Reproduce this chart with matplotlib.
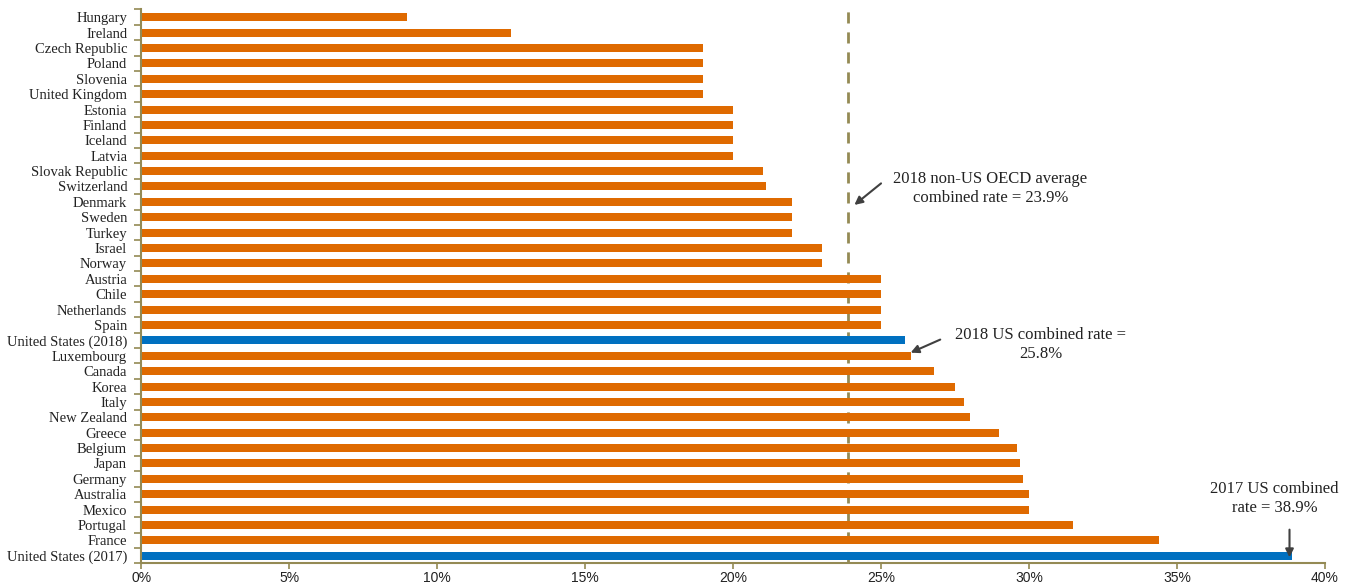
import matplotlib
matplotlib.use("Agg")
import matplotlib.pyplot as plt
from matplotlib.ticker import PercentFormatter

countries = ["Hungary", "Ireland", "Czech Republic", "Poland", "Slovenia", "United Kingdom",
             "Estonia", "Finland", "Iceland", "Latvia", "Slovak Republic", "Switzerland",
             "Denmark", "Sweden", "Turkey", "Israel", "Norway", "Austria", "Chile",
             "Netherlands", "Spain", "United States (2018)", "Luxembourg", "Canada", "Korea",
             "Italy", "New Zealand", "Greece", "Belgium", "Japan", "Germany", "Australia",
             "Mexico", "Portugal", "France", "United States (2017)"]
rates = [9.0, 12.5, 19.0, 19.0, 19.0, 19.0,
         20.0, 20.0, 20.0, 20.0, 21.0, 21.1,
         22.0, 22.0, 22.0, 23.0, 23.0, 25.0, 25.0,
         25.0, 25.0, 25.8, 26.0, 26.8, 27.5,
         27.8, 28.0, 29.0, 29.6, 29.7, 29.8, 30.0,
         30.0, 31.5, 34.4, 38.9]
highlight = ["United States (2018)", "United States (2017)"]
oecd_avg = 23.9
xticks = [0, 5, 10, 15, 20, 25, 30, 35, 40]

ORANGE = "#DF6A00"
BLUE = "#0070C0"
TAN = "#948A54"
serif = ["Liberation Serif", "DejaVu Serif"]

fig = plt.figure(figsize=(13.59, 5.86), dpi=100)
ax = fig.add_axes([0.1038, 0.0384, 0.8712, 0.9454])

ypos = list(range(len(countries)))
colors = [BLUE if c in highlight else ORANGE for c in countries]
ax.barh(ypos, rates, height=0.52, color=colors, edgecolor="none")

ax.set_ylim(len(countries) - 0.5, -0.5)
ax.set_xlim(0, 40)

ax.axvline(oecd_avg, color=TAN, linestyle=(0, (4, 3.2)), linewidth=2, zorder=0.5)

# y ticks: labels at centers, tick marks at boundaries
ax.set_yticks(ypos)
ax.set_yticklabels(countries, fontfamily=serif, fontsize=10.5, color="#222222")
ax.tick_params(axis="y", which="major", length=0, pad=10)
ax.set_yticks([i - 0.5 for i in range(len(countries) + 1)], minor=True)
ax.tick_params(axis="y", which="minor", length=5, color=TAN, width=1.2)

ax.set_xticks(xticks)
ax.xaxis.set_major_formatter(PercentFormatter(decimals=0))
ax.tick_params(axis="x", length=4, color=TAN, width=1.2, labelsize=10, labelcolor="#222222", pad=1.5)
for lbl in ax.get_xticklabels():
    lbl.set_fontfamily(["Liberation Sans", "DejaVu Sans"])

for s in ["top", "right"]:
    ax.spines[s].set_visible(False)
for s in ["left", "bottom"]:
    ax.spines[s].set_color(TAN)
    ax.spines[s].set_linewidth(1.5)

arrow = dict(arrowstyle="-|>", color="#404040", lw=1.5, mutation_scale=12, shrinkA=0, shrinkB=0)
tkw = dict(fontfamily=serif, fontsize=12, color="#222222", ha="center", va="center",
           linespacing=1.25)

ax.annotate("", xy=(24.1, 12.2), xytext=(25.0, 10.8), arrowprops=arrow)
ax.text(28.7, 11.1, "2018 non-US OECD average\ncombined rate = 23.9%", **tkw)

ax.annotate("", xy=(26.0, 21.8), xytext=(27.0, 20.95), arrowprops=arrow)
ax.text(30.4, 21.25, "2018 US combined rate =\n25.8%", **tkw)

ax.annotate("", xy=(38.8, 35.1), xytext=(38.8, 33.3), arrowprops=arrow)
ax.text(38.3, 31.3, "2017 US combined\nrate = 38.9%", **tkw)

fig.savefig("out.png", dpi=100, facecolor="white")
